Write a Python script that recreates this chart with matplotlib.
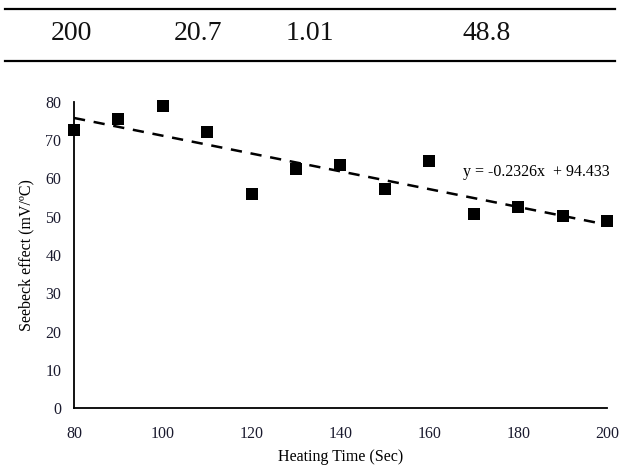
import matplotlib
matplotlib.use("Agg")
import matplotlib.pyplot as plt
import numpy as np

# Table row above the chart
table_row = ["200", "20.7", "1.01", "48.8"]
table_x = [71, 198, 310, 487]  # pixel centres of the cells

# Scatter data
heating_time = [80, 90, 100, 110, 120, 130, 140, 150, 160, 170, 180, 190, 200]
seebeck = [72.7, 75.5, 79.0, 72.2, 55.9, 62.5, 63.5, 57.3, 64.7, 50.6, 52.6, 50.3, 48.9]

# Trend line
slope = -0.2326
intercept = 94.433
x_ticks = [80, 100, 120, 140, 160, 180, 200]
y_ticks = [0, 10, 20, 30, 40, 50, 60, 70, 80]

plt.rcParams['font.family'] = ['Liberation Serif', 'DejaVu Serif']

W, H = 621, 468
fig = plt.figure(figsize=(W / 100, H / 100), dpi=100)

# table lines and text in figure pixel coords
for ypix in (8.5, 61):
    fig.add_artist(plt.Line2D([5 / W, 615 / W], [1 - ypix / H, 1 - ypix / H],
                              color='black', lw=1.6, transform=fig.transFigure))
for t, xp in zip(table_row, table_x):
    fig.text(xp / W, 1 - 34 / H, t, ha='center', va='center', fontsize=20, color='#111111')

ax = fig.add_axes([74 / W, 1 - 408 / H, (607 - 74) / W, (408 - 102) / H])
ax.scatter(heating_time, seebeck, marker='s', s=70, color='black', zorder=3,
           linewidths=0, clip_on=False)
xl = np.array([80, 200])
ax.plot(xl, slope * xl + intercept, color='black', lw=1.8, ls=(0, (4.5, 3.5)), zorder=2)

ax.set_xlim(80, 200)
ax.set_ylim(0, 80)
ax.set_xticks(x_ticks)
ax.set_yticks(y_ticks)
ax.tick_params(length=0, labelsize=11.5, colors='#1a1a2e')
ax.tick_params(axis='x', pad=13)
ax.tick_params(axis='y', pad=9)
for s in ('top', 'right'):
    ax.spines[s].set_visible(False)
for s in ('left', 'bottom'):
    ax.spines[s].set_linewidth(1.3)
ax.set_xlabel('Heating Time (Sec)', fontsize=11.5, labelpad=5)
ax.set_ylabel('Seebeck effect (mV/ºC)', fontsize=11.5, labelpad=8)
ax.text(167.5, 61.7, 'y = -0.2326x  + 94.433', fontsize=11.5, ha='left', va='center')

fig.savefig('out.png', dpi=100)
